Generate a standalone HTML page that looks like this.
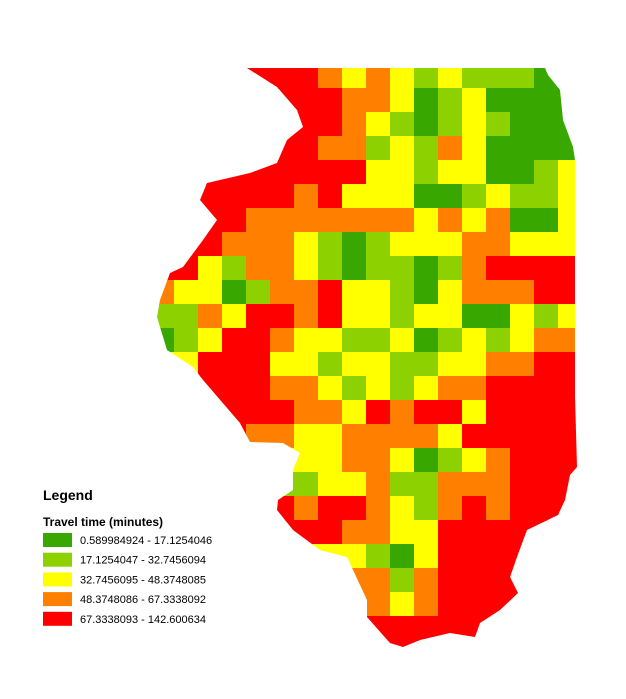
<!DOCTYPE html>
<html><head><meta charset="utf-8"><style>
html,body{margin:0;padding:0;background:#fff;}
body{width:626px;height:694px;overflow:hidden;position:relative;font-family:"Liberation Sans",Arial,sans-serif;}
</style></head><body>
<svg id="map" width="626" height="694" viewBox="0 0 626 694">
<defs><clipPath id="state"><polygon id="outline" points="247,68 545,68 548,75 560,90 563,120 573,147 575,160 575,397 577,467 570,475 565,500 558,515 527,530 517,557 510,577 518,593 500,610 480,623 475,637 450,633 420,640 403,647 390,643 367,617 367,600 347,557 320,550 293,530 277,510 278,500 293,490 293,470 300,453 283,443 250,442 240,423 203,380 193,367 167,350 157,317 160,300 170,273 183,267 203,240 217,220 200,200 207,183 250,173 277,163 287,140 303,127 297,110 277,87"/></clipPath></defs>
<g id="cells" clip-path="url(#state)" shape-rendering="crispEdges"></g>
<g>
<text x="43" y="500" font-size="14" font-weight="bold" fill="#000">Legend</text>
<text x="43" y="526" font-size="12" font-weight="bold" fill="#000">Travel time (minutes)</text>
<g id="legend-items"></g>
</g>
</svg>
<script>
const classColors = ["#38a800","#8ed100","#ffff00","#ff8000","#ff0000"];
const classLabels = ["0.589984924 - 17.1254046","17.1254047 - 32.7456094","32.7456095 - 48.3748085","48.3748086 - 67.3338092","67.3338093 - 142.600634"];
const gridRows = [
"444444432321211100",
"444444443320120000",
"444444443210121000",
"444444433121320000",
"444444444221220012",
"444444342220012112",
"444433333332323002",
"444333210122233222",
"442133210110134444",
"322013342210233344",
"113244342212200212",
"012443221120121233",
"224442212211223344",
"444443321212334444",
"444444332434424444",
"444433223333244444",
"222222223320123444",
"111111122311333444",
"444444344321343444",
"444444443322444444",
"222222222102444444",
"333333333313444444",
"333333333323444444",
"444444444444444444",
"444444444444444444"
];
const NS="http://www.w3.org/2000/svg";
const X0=150,Y0=64,C=24;
function xPos(col){return X0+col*C;}
function yPos(row){return Y0+row*C;}
const g=document.getElementById('cells');
gridRows.forEach((row,r)=>{
  row.split('').forEach((ch,c)=>{
    let v=parseInt(ch,10); if(isNaN(v)) v=4;
    const rect=document.createElementNS(NS,'rect');
    rect.setAttribute('x',xPos(c));rect.setAttribute('y',yPos(r));
    rect.setAttribute('width',C+1);rect.setAttribute('height',C+1);
    rect.setAttribute('fill',classColors[v]);
    
    
    g.appendChild(rect);
  });
});
const lg=document.getElementById('legend-items');
classLabels.forEach((lab,i)=>{
  const y=533+i*19.7;
  const sw=document.createElementNS(NS,'rect');
  sw.setAttribute('x',43);sw.setAttribute('y',y);sw.setAttribute('width',29);sw.setAttribute('height',14);
  sw.setAttribute('fill',classColors[i]);
  
  
  lg.appendChild(sw);
  const t=document.createElementNS(NS,'text');
  t.setAttribute('x',80);t.setAttribute('y',y+11);t.setAttribute('font-size','11');t.setAttribute('fill','#000');
  t.textContent=lab;
  
  
  lg.appendChild(t);
});
</script>
</body></html>
